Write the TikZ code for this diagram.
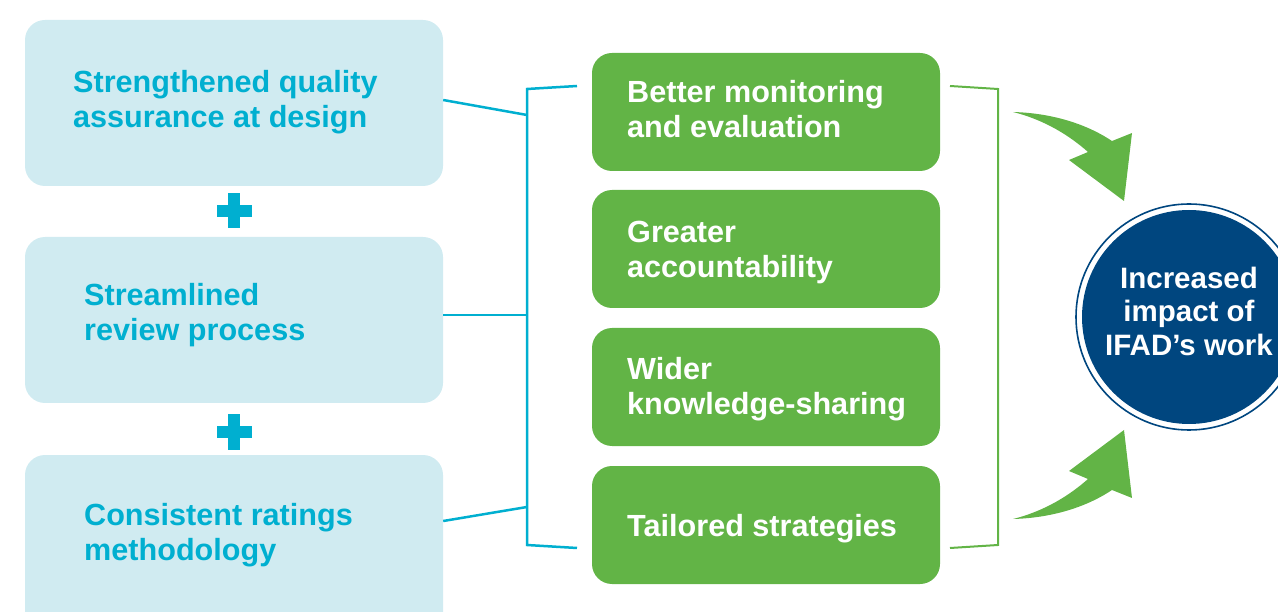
\documentclass[tikz,border=0pt]{standalone}
\usepackage{fontspec}
\setmainfont{Liberation Sans}
\definecolor{lblue}{HTML}{D0EBF1}
\definecolor{cyanc}{HTML}{00AFD0}
\definecolor{greenc}{HTML}{62B446}
\definecolor{navy}{HTML}{00467F}
\begin{document}
\begin{tikzpicture}[x=1pt,y=-1pt,
  lbox/.style={fill=lblue, rounded corners=20pt, minimum width=418pt, inner sep=0pt},
  gbox/.style={fill=greenc, rounded corners=20pt, minimum width=348pt, minimum height=118pt, inner sep=0pt},
  ltext/.style={anchor=west, align=left, text=cyanc, font=\fontsize{30.6}{35}\selectfont\bfseries, inner sep=0pt},
  gtext/.style={anchor=west, align=left, text=white, font=\fontsize{30.6}{35}\selectfont\bfseries, inner sep=0pt},
  cline/.style={draw=cyanc, line width=2.5pt},
  gline/.style={draw=greenc, line width=2pt},
  bigarrow/.style={fill=greenc}]
\useasboundingbox (0,0) rectangle (1278,612);
\begin{scope}
\clip (0,0) rectangle (1278,612);
% left boxes
\node[lbox, minimum height=166pt] (L1) at (234,103) {};
\node[lbox, minimum height=166pt] (L2) at (234,320) {};
\node[lbox, minimum height=190pt] (L3) at (234,550) {};
\node[ltext] (T1) at (73,102) {Strengthened quality\\assurance at design};
\node[ltext] (T2) at (84,315) {Streamlined\\review process};
\node[ltext] (T3) at (84,535) {Consistent ratings\\methodology};
% plus signs
\node[inner sep=0pt, minimum size=35pt] (P1) at (234,211) {};
\node[inner sep=0pt, minimum size=35pt] (P2) at (234,432) {};
\foreach \p in {P1,P2}{
  \fill[cyanc] ([xshift=-17.5pt,yshift=-6pt]\p.center) rectangle ([xshift=17.5pt,yshift=6pt]\p.center);
  \fill[cyanc] ([xshift=-6pt,yshift=-17.5pt]\p.center) rectangle ([xshift=6pt,yshift=17.5pt]\p.center);
}
% green boxes
\node[gbox] (G1) at (766,112) {};
\node[gbox] (G2) at (766,249) {};
\node[gbox] (G3) at (766,387) {};
\node[gbox] (G4) at (766,525) {};
\node[gtext] (U1) at (627,109) {Better monitoring\\and evaluation};
\node[gtext] (U2) at (627,252) {Greater\\accountability};
\node[gtext] (U3) at (627,389) {Wider\\knowledge-sharing};
\node[gtext] (U4) at (627,529) {Tailored strategies};
% cyan bracket
\coordinate (BT) at (527,89);
\coordinate (BB) at (527,545);
\coordinate (B1) at (527,115);
\coordinate (B2) at (527,315);
\coordinate (B3) at (527,507);
\coordinate (BTe) at (577,86);
\coordinate (BBe) at (577,548);
\draw[cline] (BTe) -- (BT) -- (BB) -- (BBe);
\draw[cline] (L1.east |- 0,100) -- (B1);
\draw[cline] (L2.east |- 0,315) -- (B2);
\draw[cline] (L3.east |- 0,521) -- (B3);
% green bracket
\coordinate (RT) at (998,89);
\coordinate (RB) at (998,545);
\coordinate (RTs) at (950,86);
\coordinate (RBs) at (950,548);
\draw[gline] (RTs) -- (RT) -- (RB) -- (RBs);
% circle
\node[circle, draw=navy, line width=1.6pt, minimum size=226pt, inner sep=0pt] (Cr) at (1189,317) {};
\node[circle, fill=navy, minimum size=214pt, inner sep=0pt, align=center, text=white,
  font=\fontsize{29}{33.5}\selectfont\bfseries] (C) at (1189,317) {};
\node[align=center, text=white, inner sep=0pt,
  font=\fontsize{29.5}{33.5}\selectfont\bfseries] (CT) at (1189,311) {Increased\\impact of\\IFAD’s work};
% curved arrows
\fill[bigarrow] (1013,112) .. controls (1050,113) and (1085,123) .. (1112,141) -- (1132,133) -- (1124,201) -- (1069,160) -- (1088,152) .. controls (1070,136) and (1045,120) .. (1013,112) -- cycle;
\fill[bigarrow] (1013,519) .. controls (1050,518) and (1085,508) .. (1112,490) -- (1132,498) -- (1124,430) -- (1069,471) -- (1088,479) .. controls (1070,495) and (1045,511) .. (1013,519) -- cycle;
\end{scope}
\end{tikzpicture}
\end{document}
